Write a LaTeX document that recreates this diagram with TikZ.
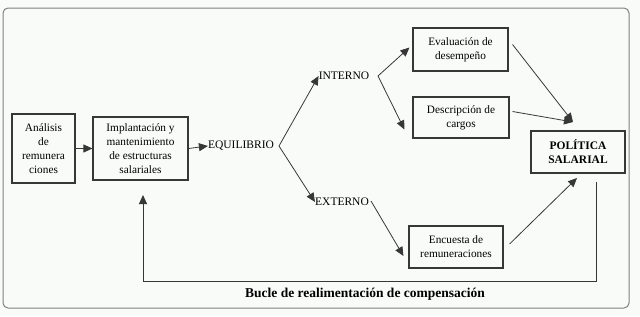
\documentclass[tikz,border=0pt]{standalone}
\usepackage{fontspec}
\setmainfont{Liberation Serif}
\usetikzlibrary{arrows.meta}
\definecolor{bgc}{RGB}{249,251,249}
\definecolor{ln}{RGB}{55,55,55}
\begin{document}
\begin{tikzpicture}[x=1pt,y=-1pt,
  box/.style={draw=ln,line width=1.1pt,align=center,inner sep=0pt,font=\fontsize{11.3}{14}\selectfont},
  lbl/.style={inner sep=0pt,font=\fontsize{11.5}{14}\selectfont},
  con/.style={draw=ln,line width=0.8pt,-{Triangle[length=9pt,width=8pt]}},
  plain/.style={draw=ln,line width=0.8pt}]
\fill[bgc] (0,0) rectangle (640,316);
\useasboundingbox (0,0) rectangle (640,316);
\draw[gray,line width=1pt,rounded corners=5pt] (3,8) rectangle (629,308);

\node[box,minimum width=63pt,minimum height=69pt] (ana) at (43.5,148.5) {Análisis\\de\\remunera\\ciones};
\node[box,minimum width=95pt,minimum height=63pt] (imp) at (140.5,148.5) {Implantación y\\mantenimiento\\de estructuras\\salariales};
\node[lbl] (eq) at (241,146) {EQUILIBRIO};
\node[lbl] (int) at (344,76) {INTERNO};
\node[lbl] (ext) at (342,202) {EXTERNO};
\node[box,minimum width=95pt,minimum height=43pt] (eva) at (460.5,49.5) {Evaluación de\\desempeño};
\node[box,minimum width=96pt,minimum height=41pt] (des) at (461,117.5) {Descripción de\\cargos};
\node[box,minimum width=94pt,minimum height=42pt] (enc) at (456,247) {Encuesta de\\remuneraciones};
\node[box,minimum width=94pt,minimum height=42pt,font=\bfseries\fontsize{11.5}{14}\selectfont] (pol) at (578,152) {POLÍTICA\\SALARIAL};
\node[lbl,font=\bfseries\fontsize{13.5}{14}\selectfont] (buc) at (365,294) {Bucle de realimentación de compensación};

\coordinate (eqR) at (279,146);
\coordinate (intR) at (378,76);
\coordinate (extR) at (371,201);
\coordinate (evaT) at (573,122);
\coordinate (encT) at (577,178);
\coordinate (fbS) at (596,182);
\coordinate (fbB) at (596,281);
\coordinate (fbC) at (143,281);
\coordinate (fbT) at (143,195);

\draw[con] (ana.east) -- (imp.west);
\draw[con] (imp.east) -- (eq.west);
\draw[con] (eqR) -- (int.west);
\draw[con] (eqR) -- (ext.west);
\draw[con] (intR) -- ([xshift=-3pt,yshift=2pt]eva.west);
\draw[con] (intR) -- ([xshift=-8pt,yshift=-12pt]des.west);
\draw[con] (extR) -- ([xshift=-5pt,yshift=-9pt]enc.west);
\draw[con] ([xshift=4pt,yshift=5pt]eva.east) -- (evaT);
\draw[con] ([xshift=3pt,yshift=6pt]des.east) -- (evaT);
\draw[con] ([xshift=6pt,yshift=3pt]enc.east) -- (encT);
\draw[con] (fbS) -- (fbB) -- (fbC) -- (fbT);
\end{tikzpicture}
\end{document}
